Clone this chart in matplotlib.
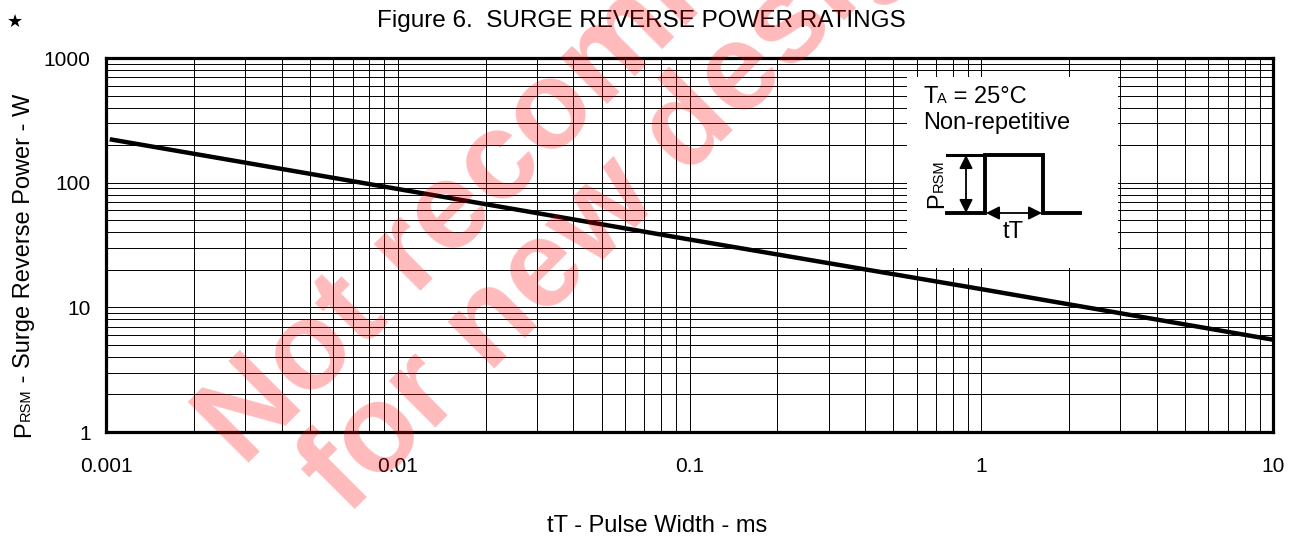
import numpy as np
import matplotlib
matplotlib.use('Agg')
import matplotlib.pyplot as plt
from matplotlib.ticker import FixedLocator, LogLocator, NullFormatter

# data
pulse_width_ms = [0.00103, 0.01, 0.1, 1, 10]
surge_power_w = [223, 89, 35, 14, 5.5]

x_ticks = [0.001, 0.01, 0.1, 1, 10]
x_tick_labels = ['0.001', '0.01', '0.1', '1', '10']
y_ticks = [1, 10, 100, 1000]
y_tick_labels = ['1', '10', '100', '1000']

W, H = 1304, 538
plt.rcParams['font.family'] = ['Liberation Sans', 'DejaVu Sans']

fig = plt.figure(figsize=(W / 100, H / 100), dpi=100)
fig.patch.set_facecolor('white')


def px(x, y):
    # image pixel (y down) -> figure fraction
    return x / W, 1 - y / H


def rich_text(parts, x, y, rotation=0, **kw):
    """Place text pieces of different size one after another."""
    renderer = fig.canvas.get_renderer()
    fx, fy = px(x, y)
    for s, size in parts:
        t = fig.text(fx, fy, s, fontsize=size, rotation=rotation,
                     rotation_mode='anchor', ha='left', va='baseline', **kw)
        bb = t.get_window_extent(renderer)
        if rotation == 90:
            fy += bb.height / H
        else:
            fx += bb.width / W


# main axes
ax = fig.add_axes([106 / W, 1 - 432 / H, 1167 / W, 374 / H])
ax.set_xscale('log')
ax.set_yscale('log')
ax.set_xlim(0.001, 10)
ax.set_ylim(1, 1000)

ax.plot(pulse_width_ms, surge_power_w, color='black', lw=3.2, solid_capstyle='butt', zorder=3)

ax.xaxis.set_major_locator(FixedLocator(x_ticks))
ax.set_xticklabels(x_tick_labels)
ax.yaxis.set_major_locator(FixedLocator(y_ticks))
ax.set_yticklabels(y_tick_labels)
ax.xaxis.set_minor_locator(LogLocator(base=10, subs=np.arange(2, 10), numticks=20))
ax.yaxis.set_minor_locator(LogLocator(base=10, subs=np.arange(2, 10), numticks=20))
ax.xaxis.set_minor_formatter(NullFormatter())
ax.yaxis.set_minor_formatter(NullFormatter())
ax.grid(True, which='both', color='black', lw=0.7)
ax.tick_params(which='both', length=0)
ax.tick_params(axis='y', labelsize=15, pad=11)
ax.tick_params(axis='x', labelsize=15, pad=18)
for sp in ax.spines.values():
    sp.set_linewidth(2.3)
    sp.set_zorder(4)

# inset box with the pulse sketch
ins = fig.add_axes([907 / W, 1 - 268 / H, 211 / W, 191 / H], zorder=5)
ins.set_xlim(907, 1118)
ins.set_ylim(268, 77)
ins.set_facecolor('white')
ins.set_xticks([])
ins.set_yticks([])
for sp in ins.spines.values():
    sp.set_visible(False)
ins.plot([947, 985, 985, 1043, 1043, 1080], [213, 213, 155, 155, 213, 213],
         color='black', lw=2.8, solid_joinstyle='miter')
ins.plot([947, 985], [155, 155], color='black', lw=2.2)
ins.annotate('', xy=(966, 155), xytext=(966, 213),
             arrowprops=dict(arrowstyle='<|-|>', color='black', lw=1.3,
                             mutation_scale=20, shrinkA=0, shrinkB=0))
ins.annotate('', xy=(986, 213), xytext=(1042, 213),
             arrowprops=dict(arrowstyle='<|-|>', color='black', lw=1.3,
                             mutation_scale=20, shrinkA=0, shrinkB=0))
ins.text(1013, 238, 'tT', fontsize=17, ha='center', va='baseline')

# title, star, axis labels
fig.text(*px(641, 27), 'Figure 6.  SURGE REVERSE POWER RATINGS', fontsize=17.5,
         ha='center', va='baseline')
fig.text(*px(15, 27), '\u2605', fontsize=13, ha='center', va='baseline',
         family='DejaVu Sans')
fig.text(*px(657, 532), 'tT - Pulse Width - ms', fontsize=17, ha='center', va='baseline')
rich_text([('P', 17), ('RSM', 10.5), (' - Surge Reverse Power - W', 17)], 30, 437, rotation=90)

# inset texts (drawn on top of the inset box)
rich_text([('T', 17), ('A', 10.5), (' = 25\u00b0C', 17)], 923, 103, zorder=6)
fig.text(*px(923, 129), 'Non-repetitive', fontsize=17, ha='left', va='baseline', zorder=6)
rich_text([('P', 17), ('RSM', 10.5)], 943, 208, rotation=90, zorder=6)

# watermark
wm = dict(fontsize=90, fontweight='bold', color='red', alpha=0.27, rotation=45,
          rotation_mode='anchor', ha='left', va='baseline', zorder=10)
fig.text(*px(243, 468), 'Not recommended', **wm)
fig.text(*px(347, 517), 'for new designs', **wm)

fig.savefig('out.png', dpi=100)
